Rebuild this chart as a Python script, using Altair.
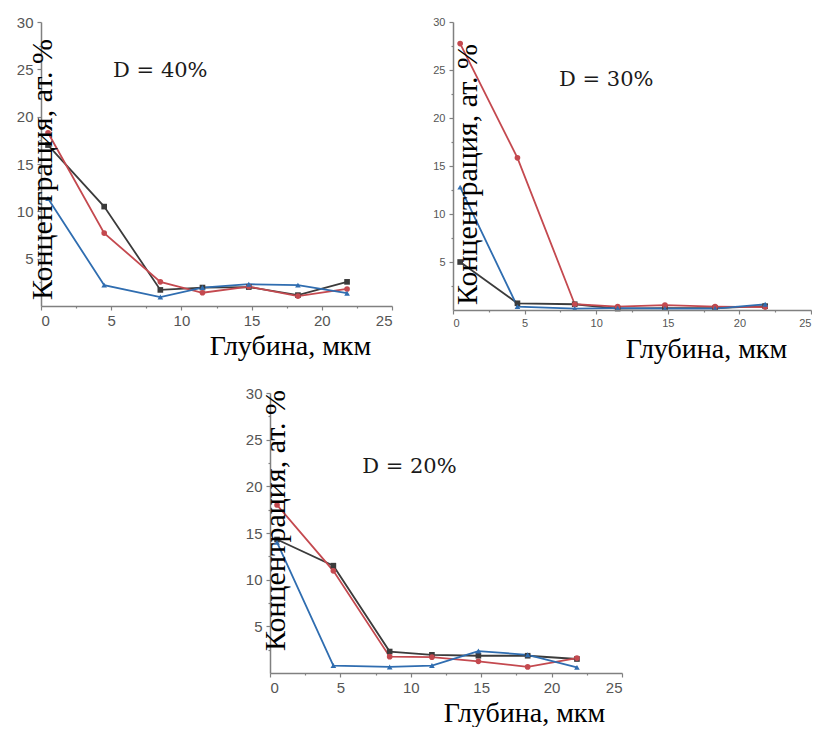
import altair as alt
import pandas as pd

# ---- data ----
DEPTH = [0.5, 4.5, 8.5, 11.5, 14.8, 18.3, 21.8]
SERIES = ["s1", "s2", "s3"]
COLORS = ["#3b3b3b", "#c4494f", "#2f6db0"]
SHAPES = ["square", "circle", "triangle-up"]

# D = 40 %
BLACK_40 = [17.0, 10.5, 1.7, 1.95, 2.0, 1.15, 2.55]
RED_40 = [18.3, 7.7, 2.55, 1.4, 2.05, 1.05, 1.8]
BLUE_40 = [11.35, 2.2, 0.95, 1.95, 2.3, 2.2, 1.35]

# D = 30 %
BLACK_30 = [5.0, 0.7, 0.6, 0.15, 0.2, 0.2, 0.4]
RED_30 = [27.75, 15.85, 0.6, 0.35, 0.5, 0.35, 0.3]
BLUE_30 = [12.8, 0.35, 0.15, 0.2, 0.15, 0.15, 0.6]

# D = 20 %
BLACK_20 = [14.3, 11.5, 2.3, 1.95, 1.85, 1.85, 1.5]
RED_20 = [18.0, 10.95, 1.75, 1.7, 1.25, 0.65, 1.6]
BLUE_20 = [14.0, 0.8, 0.65, 0.8, 2.35, 1.95, 0.6]

X_TICKS = [0, 2.5, 5, 7.5, 10, 12.5, 15, 17.5, 20, 22.5, 25]
Y_TICKS = [2.5, 5, 7.5, 10, 12.5, 15, 17.5, 20, 22.5, 25, 27.5, 30]

Y_TITLE = "Концентрация, ат. %"
X_TITLE = "Глубина, мкм"


def make_df(b, r, bl):
    rows = []
    for name, vals in zip(SERIES, [b, r, bl]):
        for x, y in zip(DEPTH, vals):
            rows.append({"depth": x, "conc": y, "series": name})
    return pd.DataFrame(rows)


TICK_SIZE = {"condition": {"test": "datum.value % 5 !== 0", "value": 2}, "value": 4}
LABEL_EXPR = "datum.value % 5 === 0 ? datum.label : ''"


def panel(df, label, ax, ay, w, h, lab_size, ytx, yty, xtx, xty):
    x_axis = alt.Axis(
        values=X_TICKS, labelExpr=LABEL_EXPR, tickSize=TICK_SIZE,
        labelOverlap=False,
        title=X_TITLE, titleX=xtx, titleY=xty, titleAlign="center",
        titleBaseline="alphabetic", titleFont="Liberation Serif",
        titleFontSize=28, titleFontWeight="normal", titleColor="#000000",
        labelFontSize=lab_size, labelPadding=3, zindex=1,
    )
    y_axis = alt.Axis(
        values=Y_TICKS, labelExpr=LABEL_EXPR, tickSize=TICK_SIZE,
        labelOverlap=False,
        title=Y_TITLE, titleX=ytx, titleY=yty, titleAngle=270,
        titleAlign="center", titleBaseline="alphabetic",
        titleFont="Liberation Serif", titleFontSize=30,
        titleFontWeight="normal", titleColor="#000000",
        labelFontSize=lab_size, labelPadding=4, zindex=1,
    )
    x = alt.X("depth:Q", scale=alt.Scale(domain=[0, 25], nice=False), axis=x_axis)
    y = alt.Y("conc:Q", scale=alt.Scale(domain=[0, 30], nice=False), axis=y_axis)
    color = alt.Color("series:N", scale=alt.Scale(domain=SERIES, range=COLORS), legend=None)
    shape = alt.Shape("series:N", scale=alt.Scale(domain=SERIES, range=SHAPES), legend=None)

    base = alt.Chart(df)
    lines = base.mark_line(strokeWidth=1.8).encode(x=x, y=y, color=color, order="depth:Q")
    pts = base.mark_point(filled=True, size=32, opacity=1).encode(x=x, y=y, color=color, shape=shape)
    txt = alt.Chart(pd.DataFrame({"depth": [ax], "conc": [ay], "t": [label]})).mark_text(
        font="DejaVu Serif", fontSize=21, color="#1a1a1a", align="center", baseline="middle"
    ).encode(x=x, y=y, text="t:N")
    return alt.layer(lines, pts, txt).properties(width=w, height=h)


p40 = panel(make_df(BLACK_40, RED_40, BLUE_40), "D = 40%", 8.5, 24.8,
            351, 284, 15, 10, 147, 249, 48)
p30 = panel(make_df(BLACK_30, RED_30, BLUE_30), "D = 30%", 10.7, 24.0,
            358, 288, 11, 23, 152, 253, 47)
p20 = panel(make_df(BLACK_20, RED_20, BLUE_20), "D = 20%", 9.9, 22.1,
            352, 280, 15, 14, 127, 254, 48)

spacer = alt.Chart(pd.DataFrame({"a": [0]})).mark_point(opacity=0).encode(
    x=alt.value(0), y=alt.value(0)
).properties(width=204, height=10)

top = alt.hconcat(p40, p30, spacing=39)
bottom = alt.hconcat(spacer, p20, spacing=0)

chart = alt.vconcat(top, bottom, spacing=23).properties(
    padding={"left": 16, "top": 15, "right": 0, "bottom": 0},
    background="white",
).configure_view(stroke=None).configure_axis(
    grid=False, domainColor="#808080", domainWidth=1.5, tickColor="#808080",
    tickWidth=1.2, labelColor="#555555", labelFont="Liberation Sans",
)

chart.save("out.html", embed_options={"renderer": "svg", "actions": False})
